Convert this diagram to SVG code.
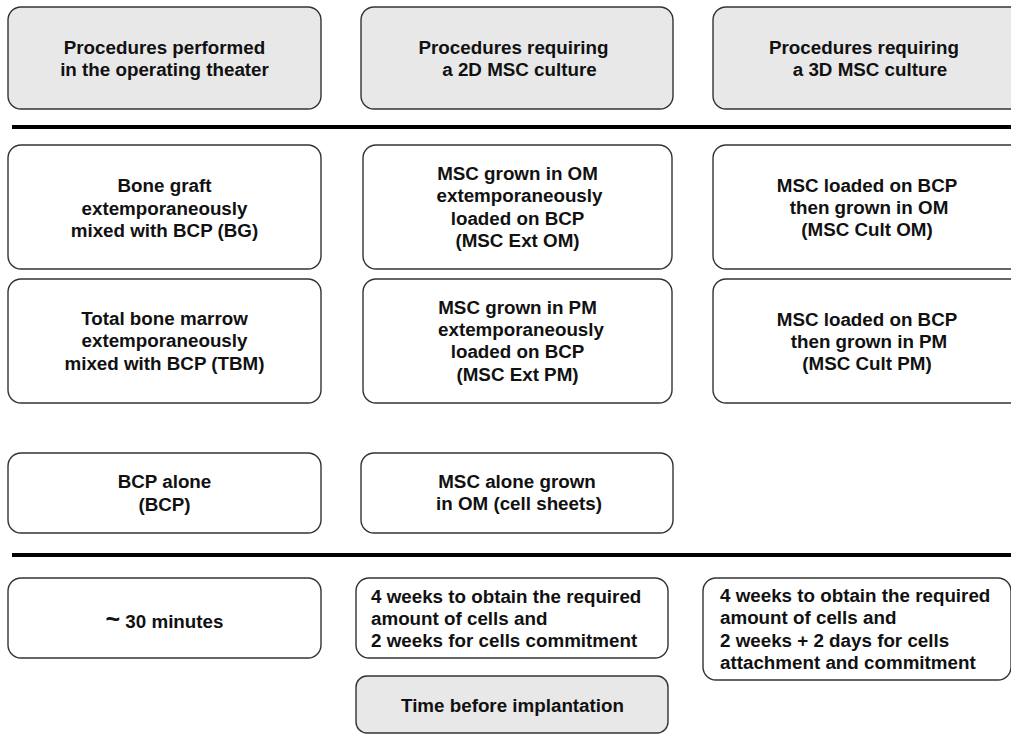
<svg xmlns="http://www.w3.org/2000/svg" width="1011" height="743" viewBox="0 0 1011 743">
<style>
.b{fill:#ffffff;stroke:#333;stroke-width:1.4}
.g{fill:#e8e8e8;stroke:#333;stroke-width:1.4}
text{font-family:"Liberation Sans",Arial,sans-serif;font-weight:bold;font-size:18.8px;fill:#111}
.c{text-anchor:middle}
.sep{stroke:#000;stroke-width:4}
</style>
<rect width="1011" height="743" fill="#fff"/>
<g id="separators">
<line class="sep" x1="12" y1="127" x2="1011" y2="127"/>
<line class="sep" x1="12" y1="555" x2="1011" y2="555"/>
</g>
<g id="h1"><rect class="g" x="8" y="7" width="313" height="102" rx="13"/>
<text class="c" x="164.5" y="54">Procedures performed</text><text class="c" x="164.5" y="76">in the operating theater</text></g>
<g id="h2"><rect class="g" x="361" y="7" width="312" height="102" rx="13"/>
<text class="c" x="513.5" y="54">Procedures requiring</text><text class="c" x="519.5" y="76">a 2D MSC culture</text></g>
<g id="h3"><rect class="g" x="713" y="7" width="310" height="102" rx="13"/>
<text class="c" x="864" y="54">Procedures requiring</text><text class="c" x="870" y="76">a 3D MSC culture</text></g>

<g id="bg"><rect class="b" x="8" y="145" width="313" height="124" rx="13"/>
<text class="c" x="164.5" y="192">Bone graft</text><text class="c" x="164.5" y="215">extemporaneously</text><text class="c" x="164.5" y="237">mixed with BCP (BG)</text></g>
<g id="mscextom"><rect class="b" x="363" y="145" width="309" height="124" rx="13"/>
<text class="c" x="517.5" y="180">MSC grown in OM</text><text class="c" x="519.5" y="202">extemporaneously</text><text class="c" x="517.5" y="225">loaded on BCP</text><text class="c" x="517.5" y="247">(MSC Ext OM)</text></g>
<g id="msccultom"><rect class="b" x="713" y="145" width="310" height="124" rx="13"/>
<text class="c" x="867" y="192">MSC loaded on BCP</text><text class="c" x="869" y="214">then grown in OM</text><text class="c" x="867" y="236">(MSC Cult OM)</text></g>

<g id="tbm"><rect class="b" x="8" y="279" width="313" height="124" rx="13"/>
<text class="c" x="164.5" y="325">Total bone marrow</text><text class="c" x="164.5" y="347">extemporaneously</text><text class="c" x="164.5" y="370">mixed with BCP  (TBM)</text></g>
<g id="mscextpm"><rect class="b" x="363" y="279" width="309" height="124" rx="13"/>
<text class="c" x="517.5" y="314">MSC grown in PM</text><text class="c" x="521" y="336">extemporaneously</text><text class="c" x="517.5" y="358">loaded on BCP</text><text class="c" x="517.5" y="381">(MSC Ext PM)</text></g>
<g id="msccultpm"><rect class="b" x="713" y="279" width="310" height="124" rx="13"/>
<text class="c" x="867" y="326">MSC loaded on BCP</text><text class="c" x="869" y="348">then grown in PM</text><text class="c" x="867" y="370">(MSC Cult PM)</text></g>

<g id="bcp"><rect class="b" x="8" y="453" width="313" height="80" rx="13"/>
<text class="c" x="164.5" y="488">BCP alone</text><text class="c" x="164.5" y="511">(BCP)</text></g>
<g id="sheets"><rect class="b" x="361" y="453" width="312" height="80" rx="13"/>
<text class="c" x="517" y="488">MSC alone grown</text><text class="c" x="519" y="510">in OM (cell sheets)</text></g>

<g id="t1"><rect class="b" x="8" y="578" width="313" height="80" rx="13"/>
<text class="c" x="164.5" y="628"><tspan font-size="25px">~</tspan> 30 minutes</text></g>
<g id="t2"><rect class="b" x="356" y="578" width="312" height="80" rx="13"/>
<text x="371" y="603">4 weeks to obtain the required</text><text x="371" y="625">amount of cells and</text><text x="371" y="647">2 weeks for cells commitment</text></g>
<g id="t3"><rect class="b" x="703" y="578" width="308" height="102" rx="13"/>
<text x="720" y="602">4 weeks to obtain the required</text><text x="720" y="624">amount of cells and</text><text x="720" y="647">2 weeks + 2 days for cells</text><text x="720" y="669">attachment and commitment</text></g>
<g id="timelabel"><rect class="g" x="356" y="676" width="312" height="57" rx="11"/>
<text class="c" x="512.5" y="712">Time before implantation</text></g>
</svg>
